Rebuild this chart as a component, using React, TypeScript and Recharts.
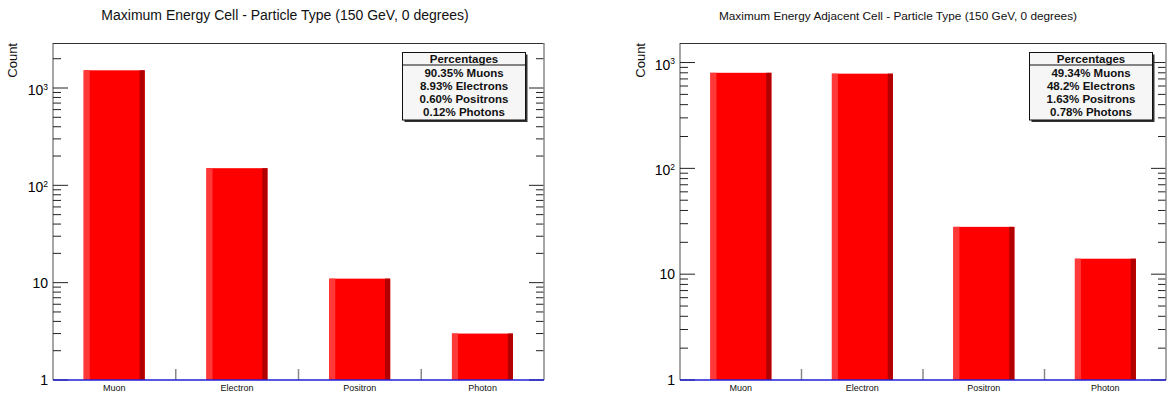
import React from 'react';
import { BarChart, Bar, XAxis, YAxis } from 'recharts';

// ---------- data ----------
const categories = ['Muon', 'Electron', 'Positron', 'Photon'];
const cellCounts = [1520, 150, 11, 3];
const adjacentCounts = [800, 785, 28, 14];
const cellPercentages = ['90.35% Muons', '8.93% Electrons', '0.60% Positrons', '0.12% Photons'];
const adjacentPercentages = ['49.34% Muons', '48.2% Electrons', '1.63% Positrons', '0.78% Photons'];
const cellTicks = [1, 2, 3, 4, 5, 6, 7, 8, 9, 10, 20, 30, 40, 50, 60, 70, 80, 90, 100, 200, 300, 400, 500, 600, 700, 800, 900, 1000, 2000];
const adjacentTicks = [1, 2, 3, 4, 5, 6, 7, 8, 9, 10, 20, 30, 40, 50, 60, 70, 80, 90, 100, 200, 300, 400, 500, 600, 700, 800, 900, 1000];
const cellDomainMax = 2900;
const adjacentDomainMax = 1530;
const cellTitle = 'Maximum Energy Cell - Particle Type (150 GeV, 0 degrees)';
const adjacentTitle = 'Maximum Energy Adjacent Cell - Particle Type (150 GeV, 0 degrees)';
const legendHeader = 'Percentages';
const yLabel = 'Count';

const FONT = '"Liberation Sans", Arial, Helvetica, sans-serif';

const BarShape = (props: any) => {
  const { x, y, width, height } = props;
  if (!height || height <= 0) return null;
  const l = width * 0.1;
  const r = width * 0.085;
  return (
    <g>
      <rect x={x} y={y} width={width} height={height} fill="#ff0000" />
      <rect x={x} y={y} width={l} height={height} fill="#ff3838" />
      <rect x={x + width - r} y={y} width={r} height={height} fill="#b20000" />
    </g>
  );
};

const makeYTick = (plotW: number) => (props: any) => {
  const { x, y, payload } = props;
  const v = payload.value as number;
  const lg = Math.log10(v);
  const exp = Math.round(lg);
  const major = Math.abs(lg - exp) < 1e-9;
  const len = major ? 15 : 8;
  let label: React.ReactNode = null;
  if (major) {
    if (exp === 0 || exp === 1) {
      label = (
        <text x={x - 5} y={y + 5} textAnchor="end" fontSize={14} fill="#000" fontFamily={FONT}>
          {exp === 0 ? '1' : '10'}
        </text>
      );
    } else {
      label = (
        <text x={x - 5} y={y + 7} textAnchor="end" fontSize={14} fill="#000" fontFamily={FONT}>
          10
          <tspan fontSize={8.5} dy={-5.5}>{String(exp)}</tspan>
        </text>
      );
    }
  }
  return (
    <g>
      <line x1={x} x2={x + len} y1={y} y2={y} stroke="#222" strokeWidth={1} />
      <line x1={x + plotW} x2={x + plotW - len} y1={y} y2={y} stroke="#222" strokeWidth={1} />
      {label}
    </g>
  );
};

const makeXTick = (band: number, n: number) => (props: any) => {
  const { x, y, payload, index } = props;
  return (
    <g>
      <text x={x} y={y + 11} textAnchor="middle" fontSize={9} fill="#111" fontFamily={FONT}>
        {payload.value}
      </text>
      {index < n - 1 && (
        <line x1={x + band / 2} x2={x + band / 2} y1={y} y2={y - 11} stroke="#888" strokeWidth={1.5} />
      )}
    </g>
  );
};

type PanelProps = {
  left: number;
  width: number;
  yAxisWidth: number;
  marginRight: number;
  counts: number[];
  ticks: number[];
  domainMax: number;
  title: string;
  titleX: number;
  titleSize: number;
  countX: number;
  percentages: string[];
  legendX: number;
};

const HEIGHT = 395;
const TOP = 43;
const XAXIS_H = 15;

function Panel(p: PanelProps) {
  const data = categories.map((name, i) => ({ name, count: p.counts[i] }));
  const plotL = p.yAxisWidth;
  const plotR = p.width - p.marginRight;
  const plotW = plotR - plotL;
  const plotB = HEIGHT - XAXIS_H;
  const band = plotW / categories.length;
  const boxW = 123;
  const headerH = 12.5;
  const lineH = 13;
  const boxTop = 52.5;
  const boxH = headerH + lineH * p.percentages.length + 3;
  return (
    <div style={{ position: 'absolute', left: p.left, top: 0, width: p.width, height: HEIGHT }}>
      <BarChart
        width={p.width}
        height={HEIGHT}
        data={data}
        margin={{ top: TOP, right: p.marginRight, bottom: 0, left: 0 }}
        barCategoryGap="25%"
      >
        <XAxis
          dataKey="name"
          height={XAXIS_H}
          tickLine={false}
          tickSize={0}
          tickMargin={0}
          interval={0}
          axisLine={false}
          tick={makeXTick(band, categories.length)}
        />
        <YAxis
          scale="log"
          type="number"
          domain={[1, p.domainMax]}
          allowDataOverflow
          ticks={p.ticks}
          interval={0}
          width={p.yAxisWidth}
          tickLine={false}
          tickSize={0}
          tickMargin={0}
          axisLine={{ stroke: '#888', strokeWidth: 1.5 }}
          tick={makeYTick(plotW)}
        />
        <Bar dataKey="count" isAnimationActive={false} shape={BarShape} />
      </BarChart>
      <svg
        width={p.width}
        height={HEIGHT}
        style={{ position: 'absolute', left: 0, top: 0, pointerEvents: 'none' }}
      >
        <line x1={plotL} x2={plotR} y1={TOP + 0.5} y2={TOP + 0.5} stroke="#333" strokeWidth={1.2} />
        <line x1={plotR} x2={plotR} y1={TOP} y2={plotB} stroke="#888" strokeWidth={1.5} />
        <line x1={plotL} x2={plotR} y1={plotB} y2={plotB} stroke="#1f1fd8" strokeWidth={1.5} />
        <text x={p.titleX} y={20} textAnchor="middle" fontSize={p.titleSize} fill="#111" fontFamily={FONT}>
          {p.title}
        </text>
        <text
          x={p.countX}
          y={TOP}
          textAnchor="end"
          fontSize={13}
          fill="#111"
          fontFamily={FONT}
          transform={`rotate(-90 ${p.countX} ${TOP})`}
        >
          {yLabel}
        </text>
        <rect x={p.legendX + 2} y={boxTop + 2} width={boxW} height={boxH} fill="#333" />
        <rect x={p.legendX} y={boxTop} width={boxW} height={boxH} fill="#f6f6f6" stroke="#111" strokeWidth={1} />
        <line x1={p.legendX} x2={p.legendX + boxW} y1={boxTop + headerH} y2={boxTop + headerH} stroke="#111" strokeWidth={1} />
        <text
          x={p.legendX + boxW / 2}
          y={boxTop + 10.5}
          textAnchor="middle"
          fontSize={11.5}
          fontWeight="bold"
          fill="#111"
          fontFamily={FONT}
        >
          {legendHeader}
        </text>
        {p.percentages.map((s, i) => (
          <text
            key={s}
            x={p.legendX + boxW / 2}
            y={boxTop + headerH + 12 + i * lineH}
            textAnchor="middle"
            fontSize={11.5}
            fontWeight="bold"
            fill="#111"
            fontFamily={FONT}
          >
            {s}
          </text>
        ))}
      </svg>
    </div>
  );
}

export default function App() {
  return (
    <div
      style={{
        position: 'absolute',
        left: 0,
        top: 0,
        width: 1167,
        height: HEIGHT,
        background: '#fff',
        overflow: 'hidden',
      }}
    >
      <Panel
        left={0}
        width={583}
        yAxisWidth={53}
        marginRight={39}
        counts={cellCounts}
        ticks={cellTicks}
        domainMax={cellDomainMax}
        title={cellTitle}
        titleX={285}
        titleSize={14}
        countX={17}
        percentages={cellPercentages}
        legendX={402.5}
      />
      <Panel
        left={583}
        width={584}
        yAxisWidth={97}
        marginRight={1}
        counts={adjacentCounts}
        ticks={adjacentTicks}
        domainMax={adjacentDomainMax}
        title={adjacentTitle}
        titleX={315}
        titleSize={11.8}
        countX={62}
        percentages={adjacentPercentages}
        legendX={446.5}
      />
    </div>
  );
}
